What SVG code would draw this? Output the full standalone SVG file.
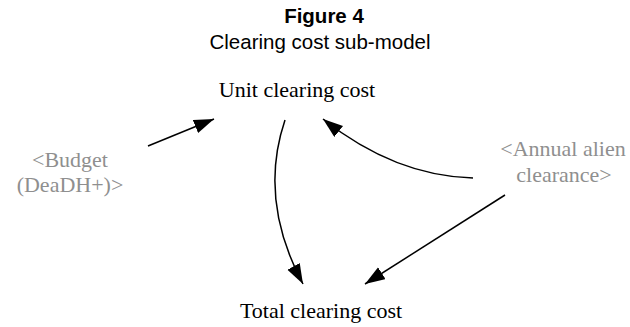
<svg xmlns="http://www.w3.org/2000/svg" width="630" height="327" viewBox="0 0 630 327">
<style>
.title{font-family:"Liberation Sans",Arial,sans-serif;fill:#000;text-anchor:middle}
.node{font-family:"Liberation Serif","Times New Roman",serif;font-size:22px;fill:#000;text-anchor:middle}
.shadow{font-family:"Liberation Serif","Times New Roman",serif;font-size:22px;fill:#8f8f8f;text-anchor:middle}
.conn{fill:none;stroke:#000;stroke-width:1.5;marker-end:url(#ah)}
</style>
<defs>
<marker id="ah" markerUnits="userSpaceOnUse" markerWidth="22" markerHeight="16" refX="20" refY="7" orient="auto">
<path d="M0,0 L20,7 L0,14 Z" fill="#000"/>
</marker>
</defs>
<rect width="630" height="327" fill="#fff"/>
<g id="title">
<text class="title" x="324" y="23" font-size="20.5" font-weight="bold">Figure 4</text>
<text class="title" x="320" y="49" font-size="20.5">Clearing cost sub-model</text>
</g>
<g id="unit-clearing-cost"><text class="node" x="297" y="97">Unit clearing cost</text></g>
<g id="total-clearing-cost"><text class="node" x="321" y="318">Total clearing cost</text></g>
<g id="budget"><text class="shadow" x="70" y="167">&lt;Budget</text><text class="shadow" x="70" y="192">(DeaDH+)&gt;</text></g>
<g id="annual-alien-clearance"><text class="shadow" x="563" y="156">&lt;Annual alien</text><text class="shadow" x="564" y="182">clearance&gt;</text></g>
<g id="connectors">
<path class="conn" d="M148,146 L214,119"/>
<path class="conn" d="M285,120 Q258,200 303,284"/>
<path class="conn" d="M473,178 Q395,176 323,119"/>
<path class="conn" d="M505,195 L365,284"/>
</g>
</svg>
